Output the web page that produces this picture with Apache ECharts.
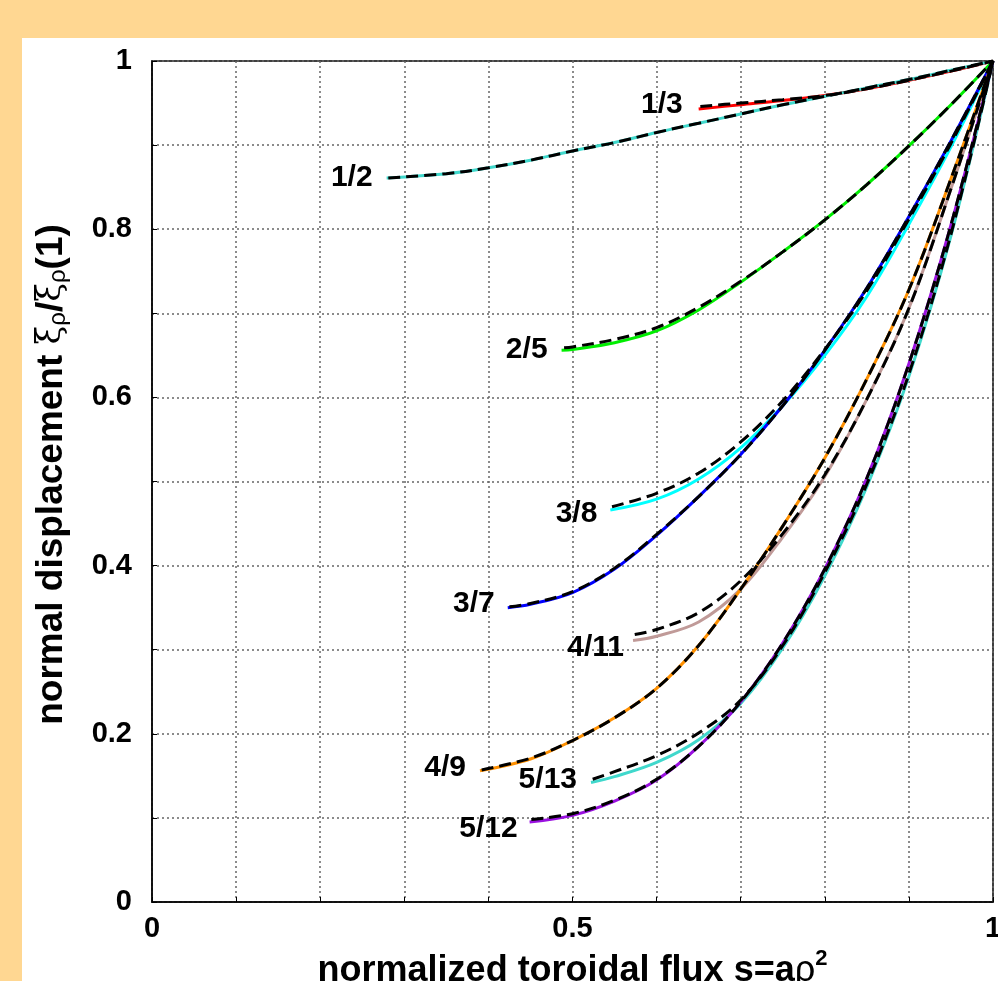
<!DOCTYPE html>
<html>
<head>
<meta charset="utf-8">
<script src="https://cdn.jsdelivr.net/npm/echarts@6/dist/echarts.min.js"></script>
<style>
html,body{margin:0;padding:0;background:#FFD792;overflow:hidden;}
#c{width:998px;height:981px;}
</style>
</head>
<body>
<div id="c"></div>
<script>
// ---- data: [s, xi/xi(1)] pairs ----
const q13 = [[0.650,0.943],[0.70,0.948],[0.75,0.953],[0.80,0.959],[0.85,0.967],[0.90,0.977],[0.95,0.988],[1,1]];
const q13fit = [[0.652,0.946],[0.70,0.950],[0.75,0.954],[0.80,0.959],[0.85,0.967],[0.90,0.977],[0.95,0.988],[1,1]];
const q12 = [[0.279,0.861],[0.35,0.866],[0.40,0.873],[0.45,0.882],[0.50,0.893],[0.55,0.903],[0.60,0.915],[0.65,0.926],[0.70,0.937],[0.75,0.948],[0.80,0.958],[0.85,0.968],[0.90,0.978],[0.95,0.989],[1,1]];
const q12fit = [[0.281,0.861],[0.35,0.866],[0.40,0.873],[0.45,0.882],[0.50,0.893],[0.55,0.903],[0.60,0.915],[0.65,0.926],[0.70,0.937],[0.75,0.948],[0.80,0.958],[0.85,0.968],[0.90,0.978],[0.95,0.989],[1,1]];
const q25 = [[0.487,0.656],[0.50,0.657],[0.55,0.665],[0.60,0.679],[0.65,0.704],[0.70,0.737],[0.75,0.773],[0.80,0.811],[0.85,0.853],[0.90,0.899],[0.95,0.948],[1,1]];
const q25fit = [[0.490,0.659],[0.50,0.660],[0.55,0.669],[0.60,0.683],[0.65,0.707],[0.70,0.738],[0.75,0.773],[0.80,0.811],[0.85,0.853],[0.90,0.899],[0.95,0.948],[1,1]];
const q38 = [[0.545,0.466],[0.60,0.479],[0.65,0.503],[0.70,0.540],[0.75,0.590],[0.80,0.650],[0.85,0.720],[0.90,0.806],[0.95,0.898],[1,1]];
const q38fit = [[0.547,0.470],[0.60,0.486],[0.65,0.510],[0.70,0.547],[0.75,0.596],[0.80,0.657],[0.85,0.727],[0.90,0.812],[0.95,0.902],[1,1]];
const q37 = [[0.423,0.350],[0.45,0.354],[0.50,0.368],[0.55,0.396],[0.60,0.436],[0.65,0.482],[0.70,0.532],[0.75,0.590],[0.80,0.656],[0.85,0.730],[0.90,0.815],[0.95,0.905],[1,1]];
const q37fit = [[0.425,0.351],[0.45,0.355],[0.50,0.369],[0.55,0.397],[0.60,0.437],[0.65,0.482],[0.70,0.532],[0.75,0.590],[0.80,0.656],[0.85,0.730],[0.90,0.815],[0.95,0.905],[1,1]];
const q411 = [[0.572,0.311],[0.60,0.316],[0.65,0.333],[0.70,0.372],[0.75,0.434],[0.80,0.506],[0.85,0.598],[0.90,0.706],[0.95,0.848],[1,1]];
const q411fit = [[0.574,0.318],[0.60,0.324],[0.65,0.344],[0.70,0.382],[0.75,0.438],[0.80,0.508],[0.85,0.598],[0.90,0.706],[0.95,0.848],[1,1]];
const q49 = [[0.390,0.156],[0.45,0.170],[0.50,0.192],[0.55,0.219],[0.60,0.254],[0.65,0.305],[0.70,0.372],[0.75,0.447],[0.80,0.528],[0.85,0.622],[0.90,0.728],[0.95,0.860],[1,1]];
const q49fit = [[0.392,0.157],[0.45,0.171],[0.50,0.192],[0.55,0.219],[0.60,0.254],[0.65,0.305],[0.70,0.372],[0.75,0.447],[0.80,0.528],[0.85,0.622],[0.90,0.728],[0.95,0.860],[1,1]];
const q513 = [[0.522,0.142],[0.55,0.149],[0.60,0.166],[0.65,0.193],[0.70,0.236],[0.75,0.302],[0.80,0.388],[0.85,0.494],[0.90,0.625],[0.95,0.792],[1,1]];
const q513fit = [[0.524,0.146],[0.55,0.155],[0.60,0.174],[0.65,0.201],[0.70,0.240],[0.75,0.305],[0.80,0.392],[0.85,0.497],[0.90,0.628],[0.95,0.794],[1,1]];
const q512 = [[0.449,0.095],[0.50,0.103],[0.55,0.120],[0.60,0.145],[0.65,0.185],[0.70,0.238],[0.75,0.308],[0.80,0.396],[0.85,0.504],[0.90,0.640],[0.95,0.805],[1,1]];
const q512fit = [[0.451,0.098],[0.50,0.105],[0.55,0.121],[0.60,0.146],[0.65,0.185],[0.70,0.238],[0.75,0.308],[0.80,0.396],[0.85,0.504],[0.90,0.640],[0.95,0.805],[1,1]];

const curveNames = ['1/3','1/2','2/5','3/8','3/7','4/11','4/9','5/13','5/12'];
const solidData = [q13,q12,q25,q38,q37,q411,q49,q513,q512];
const fitData = [q13fit,q12fit,q25fit,q38fit,q37fit,q411fit,q49fit,q513fit,q512fit];
const xTickLabels = {'0':'0','0.5':'0.5','1':'1'};
const yTickLabels = {'0':'0','0.2':'0.2','0.4':'0.4','0.6':'0.6','0.8':'0.8','1':'1'};

// ---- styles ----
const colors = ['#ff0000','#40d8cc','#00ee00','#00ffff','#0000ff','#c09a98','#ff9000','#40d8cc','#9a10e0'];
const labelStyle = [
  {d:16, dy:-4},{d:14, dy:0},{d:14, dy:-1},{d:13, dy:4},{d:13, dy:-4},
  {d:9, dy:7},{d:14, dy:-3},{d:14, dy:-3},{d:12, dy:7}
];
const FONT = '"Liberation Sans", Arial, Helvetica, sans-serif';

const series = [];
solidData.forEach((d,i)=>{
  series.push({type:'line', name:curveNames[i]+' data', data:d, showSymbol:false, smooth:0.35,
    lineStyle:{color:colors[i], width:3}, z:2, silent:true});
});
fitData.forEach((d,i)=>{
  series.push({type:'line', name:curveNames[i]+' fit', data:d, showSymbol:false, smooth:0.35,
    lineStyle:{color:'#000', width:3, type:[12,6]}, z:3, silent:true});
});
series.push({
  type:'scatter', symbolSize:0, z:5, silent:true, itemStyle:{opacity:1},
  data: solidData.map((d,i)=>({
    value:d[0], name:curveNames[i],
    label:{show:true, position:'left', distance:labelStyle[i].d, offset:[0,labelStyle[i].dy],
      formatter:'{b}', fontFamily:FONT, fontWeight:'bold', fontSize:30, color:'#000'}
  }))
});

const chart = echarts.init(document.getElementById('c'), null, {renderer:'canvas'});
chart.setOption({
  animation:false,
  backgroundColor:'#FFD792',
  graphic:[{type:'rect', shape:{x:22,y:38,width:976,height:943}, style:{fill:'#fff'}, z:-10}],
  grid:{left:152, right:5, top:61, bottom:79, show:true, borderColor:'#000', borderWidth:1.5,
    containLabel:false, outerBoundsMode:'none'},
  xAxis:{type:'value', min:0, max:1, interval:0.1,
    axisLine:{show:true, lineStyle:{color:'#000', width:1.5}},
    axisTick:{show:true, inside:true, length:5, lineStyle:{color:'#000'}},
    axisLabel:{formatter:v=>{const k=String(Math.round(v*10)/10);return xTickLabels[k]||'';},
      fontFamily:FONT, fontWeight:'bold', fontSize:29, color:'#000', margin:12, showMaxLabel:true, hideOverlap:false},
    splitLine:{show:true, lineStyle:{color:'#666', width:1.5, type:[2,3]}},
    name:'normalized toroidal flux s=a{r|ρ}{sup|2}', nameLocation:'middle', nameGap:44,
    nameTextStyle:{fontFamily:FONT, fontWeight:'bold', fontSize:36, color:'#000',
      rich:{r:{fontFamily:FONT, fontSize:36, fontWeight:'normal', color:'#000'},
            sup:{fontFamily:FONT, fontSize:22, fontWeight:'bold', verticalAlign:'top', lineHeight:46, color:'#000'}}}
  },
  yAxis:{type:'value', min:0, max:1, interval:0.1,
    axisLine:{show:true, lineStyle:{color:'#000', width:1.5}},
    axisTick:{show:true, inside:true, length:5, lineStyle:{color:'#000'}},
    axisLabel:{formatter:v=>{const k=String(Math.round(v*10)/10);return yTickLabels[k]||'';},
      fontFamily:FONT, fontWeight:'bold', fontSize:29, color:'#000', margin:20},
    splitLine:{show:true, lineStyle:{color:'#666', width:1.5, type:[2,3]}},
    name:'normal displacement {x|ξ}{s|ρ}/{x|ξ}{s|ρ}(1)', nameLocation:'middle', nameRotate:90, nameGap:82,
    nameTextStyle:{fontFamily:FONT, fontWeight:'bold', fontSize:37, color:'#000', padding:[0,0,0,14],
      rich:{x:{fontFamily:'"DejaVu Serif", serif', fontSize:34, fontWeight:'normal', color:'#000'},
            s:{fontFamily:FONT, fontSize:24, fontWeight:'normal', verticalAlign:'bottom', lineHeight:32, color:'#000'}}}
  },
  series
});
</script>
</body>
</html>
